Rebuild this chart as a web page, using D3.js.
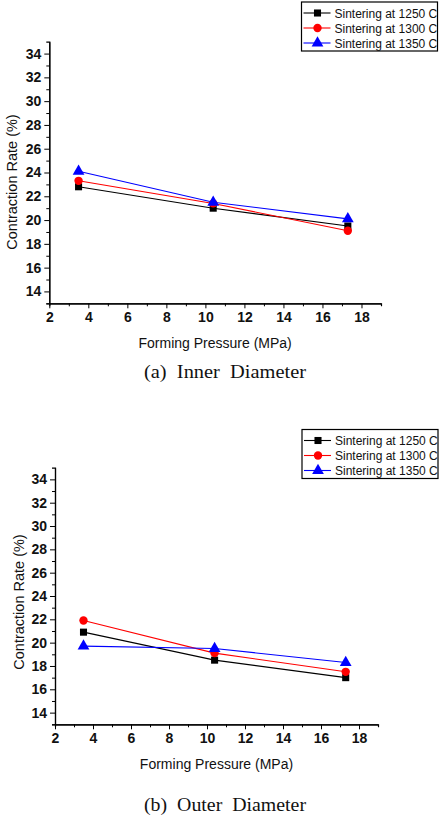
<!DOCTYPE html>
<html>
<head>
<meta charset="utf-8">
<script src="https://cdn.jsdelivr.net/npm/d3@7"></script>
<style>
  body { margin: 0; background: #fff; }
  svg { display: block; }
</style>
</head>
<body>
<div id="chart"></div>
<script>
// Data
const pressure = [3.5, 10.4, 17.3]
const seriesNames = ['Sintering at 1250 C', 'Sintering at 1300 C', 'Sintering at 1350 C']
const innerAt1250 = [22.8, 21.0, 19.5]
const innerAt1300 = [23.3, 21.4, 19.1]
const innerAt1350 = [24.1, 21.5, 20.1]
const outerAt1250 = [20.9, 18.5, 17.0]
const outerAt1300 = [21.9, 19.1, 17.5]
const outerAt1350 = [19.7, 19.5, 18.3]
const xTicks = [2, 4, 6, 8, 10, 12, 14, 16, 18]
const yTicks = [14, 16, 18, 20, 22, 24, 26, 28, 30, 32, 34]
const captions = ['(a)  Inner  Diameter', '(b)  Outer  Diameter']

const colors = ['#000000', '#ff0000', '#0000ff']
const symbols = [d3.symbolSquare, d3.symbolCircle, d3.symbolTriangle]
const symbolSizes = [50, 55, 60]

// Dimensions
const W = 442
const H = 822
const sans = 'Liberation Sans, Arial'

const svg = d3.select('#chart')
  .append('svg')
  .attr('width', W)
  .attr('height', H)

function drawPanel(cfg) {
  const x = d3.scaleLinear().domain([2, 19]).range([cfg.left, cfg.right])
  const y = d3.scaleLinear().domain([13, 35]).range([cfg.bottom, cfg.top])
  const g = svg.append('g')

  // minor ticks
  const xAxisMinor = d3.axisBottom(x).tickValues(d3.range(3, 19, 2)).tickSize(3).tickFormat('')
  const yAxisMinor = d3.axisLeft(y).tickValues(d3.range(13, 35, 2)).tickSize(3).tickFormat('')
  g.append('g').attr('transform', `translate(0,${cfg.bottom})`).call(xAxisMinor)
  g.append('g').attr('transform', `translate(${cfg.left},0)`).call(yAxisMinor)

  // major ticks
  const xAxis = d3.axisBottom(x).tickValues(xTicks).tickSize(5).tickPadding(4).tickSizeOuter(0)
  const yAxis = d3.axisLeft(y).tickValues(yTicks).tickSize(5).tickPadding(3).tickSizeOuter(0)
  const gx = g.append('g').attr('transform', `translate(0,${cfg.bottom})`).call(xAxis)
  const gy = g.append('g').attr('transform', `translate(${cfg.left},0)`).call(yAxis)
  g.selectAll('.domain').attr('stroke', '#000').attr('stroke-width', 1.2)
  g.selectAll('.tick line').attr('stroke', '#000')
  gx.selectAll('text').attr('font-family', sans).attr('font-weight', 'bold')
    .attr('font-size', 14).attr('fill', '#111').attr('dy', '0.7em')
  gy.selectAll('text').attr('font-family', sans).attr('font-weight', 'bold')
    .attr('font-size', 14).attr('fill', '#111')

  // lines and markers
  const line = d3.line().x((d, i) => x(pressure[i])).y(d => y(d))
  cfg.series.forEach((vals, s) => {
    g.append('path')
      .attr('d', line(vals))
      .attr('fill', 'none')
      .attr('stroke', colors[s])
      .attr('stroke-width', 1.1)
  })
  cfg.series.forEach((vals, s) => {
    g.selectAll(null)
      .data(vals)
      .enter()
      .append('path')
      .attr('transform', (d, i) => `translate(${x(pressure[i])},${y(d)})`)
      .attr('d', d3.symbol().type(symbols[s]).size(symbolSizes[s]))
      .attr('fill', colors[s])
  })

  // axis titles
  g.append('text')
    .attr('x', (cfg.left + cfg.right) / 2)
    .attr('y', cfg.bottom + 45)
    .attr('text-anchor', 'middle')
    .attr('font-family', sans)
    .attr('font-size', 14)
    .attr('fill', '#111')
    .text('Forming Pressure (MPa)')
  g.append('text')
    .attr('transform', `translate(${cfg.ylabelX},${cfg.ylabelY}) rotate(-90)`)
    .attr('text-anchor', 'middle')
    .attr('font-family', sans)
    .attr('font-size', 14.5)
    .attr('fill', '#111')
    .text('Contraction Rate (%)')

  // legend
  const lg = g.append('g').attr('transform', `translate(${cfg.legendX},${cfg.legendY})`)
  lg.append('rect')
    .attr('width', 136).attr('height', 49)
    .attr('fill', '#fff').attr('stroke', '#000').attr('stroke-width', 1.2)
  seriesNames.forEach((name, s) => {
    const ry = 11 + s * 15
    lg.append('line')
      .attr('x1', 2).attr('x2', 29).attr('y1', ry).attr('y2', ry)
      .attr('stroke', colors[s]).attr('stroke-width', 1.1)
    lg.append('path')
      .attr('transform', `translate(16,${ry})`)
      .attr('d', d3.symbol().type(symbols[s]).size(symbolSizes[s]))
      .attr('fill', colors[s])
    lg.append('text')
      .attr('x', 33).attr('y', ry + 4.5)
      .attr('font-family', sans)
      .attr('font-size', 12)
      .attr('fill', '#111')
      .text(name)
  })

  // caption
  svg.append('text')
    .attr('x', 225)
    .attr('y', cfg.captionY)
    .attr('text-anchor', 'middle')
    .attr('font-family', 'Liberation Serif, Times New Roman')
    .attr('font-size', 18.5)
    .attr('xml:space', 'preserve')
    .attr('textLength', 162)
    .attr('lengthAdjust', 'spacingAndGlyphs')
    .attr('fill', '#111')
    .style('white-space', 'pre')
    .text(cfg.caption)
}

drawPanel({
  left: 49.3, right: 381, top: 41.7, bottom: 303.3,
  series: [innerAt1250, innerAt1300, innerAt1350],
  ylabelX: 17, ylabelY: 182,
  legendX: 301.5, legendY: 2,
  captionY: 378, caption: captions[0]
})

drawPanel({
  left: 55, right: 378, top: 467.7, bottom: 724.3,
  series: [outerAt1250, outerAt1300, outerAt1350],
  ylabelX: 23.5, ylabelY: 602,
  legendX: 302, legendY: 429.5,
  captionY: 811, caption: captions[1]
})
</script>
</body>
</html>
